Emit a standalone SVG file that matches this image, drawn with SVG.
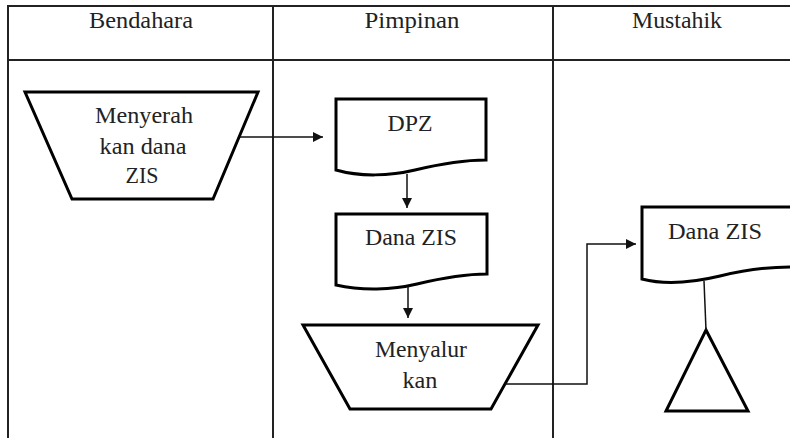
<svg xmlns="http://www.w3.org/2000/svg" width="790" height="438" viewBox="0 0 790 438">
<style>
.t{font-family:"Liberation Serif","Times New Roman",serif;font-size:23px;fill:#222;text-anchor:middle}
.grid{stroke:#222;stroke-width:2;fill:none}
.shape{stroke:#000;stroke-width:3;fill:#fff;stroke-linejoin:miter}
.con{stroke:#111;stroke-width:1.5;fill:none}
</style>
<defs>
<marker id="ah" viewBox="0 0 10 10" refX="10" refY="5" markerWidth="10" markerHeight="10" markerUnits="userSpaceOnUse" orient="auto">
<path d="M0,0 L10,5 L0,10 Z" fill="#111"/>
</marker>
</defs>
<rect width="790" height="438" fill="#fff"/>
<g id="lanes">
<path class="grid" d="M8,439 V6 H791 M8,60 H791 M273,6 V439 M553,6 V439"/>
<text class="t" x="141" y="28" textLength="104" lengthAdjust="spacingAndGlyphs">Bendahara</text>
<text class="t" x="412" y="28" textLength="95" lengthAdjust="spacingAndGlyphs">Pimpinan</text>
<text class="t" x="677" y="28" textLength="90" lengthAdjust="spacingAndGlyphs">Mustahik</text>
</g>
<g id="menyerahkan">
<path class="shape" d="M25,92 H258 L213,199 H72 Z"/>
<text class="t" x="144" y="123" textLength="98" lengthAdjust="spacingAndGlyphs">Menyerah</text>
<text class="t" x="143" y="154" textLength="87" lengthAdjust="spacingAndGlyphs">kan dana</text>
<text class="t" x="142" y="183" textLength="33" lengthAdjust="spacingAndGlyphs">ZIS</text>
</g>
<g id="dpz">
<path class="shape" d="M336,99 H486 V160 C465,160 440,164 415,170 C390,176 360,177 336,170 Z"/>
<text class="t" x="410" y="131" textLength="45" lengthAdjust="spacingAndGlyphs">DPZ</text>
</g>
<g id="dana-zis-pimpinan">
<path class="shape" d="M336,214 H487 V274 C466,274 442,278 417,284 C392,290 362,291 336,285 Z"/>
<text class="t" x="411" y="245" textLength="92" lengthAdjust="spacingAndGlyphs">Dana ZIS</text>
</g>
<g id="menyalurkan">
<path class="shape" d="M303,325 H538 L491,409 H350 Z"/>
<text class="t" x="421" y="357" textLength="92" lengthAdjust="spacingAndGlyphs">Menyalur</text>
<text class="t" x="420" y="388" textLength="35" lengthAdjust="spacingAndGlyphs">kan</text>
</g>
<g id="dana-zis-mustahik">
<path class="shape" d="M642,207 H800 V267 H790 C765,267 745,270 720,276 C695,282 665,285 642,279 Z"/>
<text class="t" x="715" y="239" textLength="94" lengthAdjust="spacingAndGlyphs">Dana ZIS</text>
</g>
<g id="arsip">
<path class="shape" d="M706,330 L748,411 H666 Z"/>
</g>
<g id="connectors">
<path class="con" d="M240,137 H323" marker-end="url(#ah)"/>
<path class="con" d="M407,174 V208" marker-end="url(#ah)"/>
<path class="con" d="M408,286 V318" marker-end="url(#ah)"/>
<path class="con" d="M505,384 H587 V244 H636" marker-end="url(#ah)"/>
<path class="con" d="M704,281 L706,330"/>
</g>
</svg>
